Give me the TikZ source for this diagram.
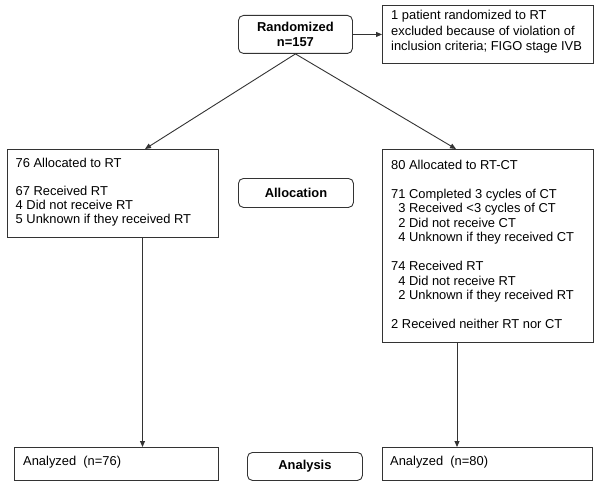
\documentclass[tikz,border=0pt]{standalone}
\usepackage{fontspec}
\setmainfont{Liberation Sans}
\usetikzlibrary{arrows.meta}
\begin{document}
\begin{tikzpicture}[x=1pt,y=-1pt,
  boxline/.style={draw=black!80, line width=0.9pt},
  plainbox/.style={boxline, rectangle, anchor=north west, inner sep=0pt},
  roundbox/.style={boxline, rectangle, rounded corners=5pt, anchor=north west, inner sep=0pt},
  txt/.style={anchor=base west, inner sep=0pt, font=\fontsize{12.9}{14.5}\selectfont},
  btxt/.style={inner sep=0pt, font=\fontsize{12.9}{14.5}\selectfont\bfseries, align=center},
  arr/.style={draw=black!80, line width=0.9pt, -{Triangle[length=6pt,width=5pt]}},
  conn/.style={draw=black!80, line width=0.9pt}]
\useasboundingbox (0,0) rectangle (600,487);
\fill[white] (0,0) rectangle (600,487);

% boxes
\node[roundbox, minimum width=114pt, minimum height=38pt] (rand) at (238,15) {};
\node[plainbox, minimum width=211pt, minimum height=58pt] (ex) at (382,5) {};
\node[plainbox, minimum width=211pt, minimum height=88pt] (lb) at (7,149) {};
\node[plainbox, minimum width=211pt, minimum height=193pt] (rb) at (382,149) {};
\node[roundbox, minimum width=115pt, minimum height=29pt] (alloc) at (238,178) {};
\node[plainbox, minimum width=204pt, minimum height=33pt] (la) at (14,447) {};
\node[roundbox, minimum width=115pt, minimum height=28pt] (anal) at (247,452) {};
\node[plainbox, minimum width=210pt, minimum height=33pt] (ra) at (382,447) {};

% texts
\node[btxt] (randt) at (rand.center) {Randomized\\n=157};
\node[txt] (ext) at (391,20) {\fontsize{12.9}{15.3}\selectfont\begin{tabular}[t]{@{}l@{}}1 patient randomized to RT\\excluded because of violation of\\inclusion criteria; FIGO stage IVB\end{tabular}};
\node[txt] (lbt) at (15.5,167) {\fontsize{12.9}{14.1}\selectfont\begin{tabular}[t]{@{}l@{}}76 Allocated to RT\\ \\67 Received RT\\4 Did not receive RT\\5 Unknown if they received RT\end{tabular}};
\node[txt] (rbt) at (391,169.3) {\begin{tabular}[t]{@{}l@{}}80 Allocated to RT-CT\\ \\71 Completed 3 cycles of CT\\\hphantom{0}3 Received <3 cycles of CT\\\hphantom{0}2 Did not receive CT\\\hphantom{0}4 Unknown if they received CT\\ \\74 Received RT\\\hphantom{0}4 Did not receive RT\\\hphantom{0}2 Unknown if they received RT\\ \\2 Received neither RT nor CT\end{tabular}};
\node[btxt] (alloct) at (alloc.center) {Allocation};
\node[txt] (lat) at (23,465) {Analyzed\ \ (n=76)};
\node[btxt] (analt) at (anal.center) {Analysis};
\node[txt] (rat) at (390,465) {Analyzed\ \ (n=80)};

% connector end points
\coordinate (lt) at (145,149);
\coordinate (rt) at (456,149);
\coordinate (lv) at (142.5,0);
\coordinate (rv) at (457,0);

% connectors
\draw[arr] (rand.east) -- (ex.west);
\draw[arr] (rand.south) -- (lt);
\draw[arr] (rand.south) -- (rt);
\draw[arr] (lb.south -| lv) -- (la.north -| lv);
\draw[arr] (rb.south -| rv) -- (ra.north -| rv);
\end{tikzpicture}
\end{document}
